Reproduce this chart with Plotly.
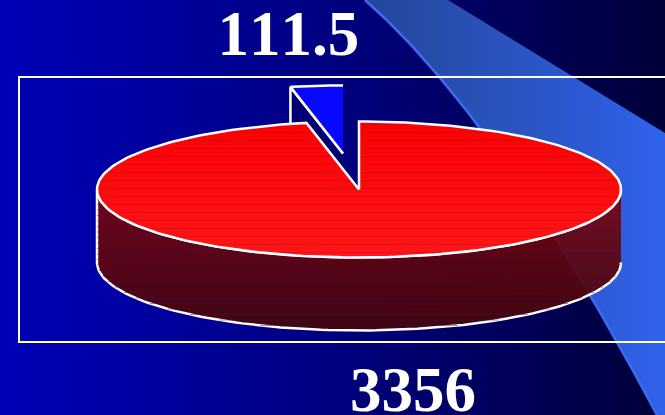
import numpy as np
import plotly.graph_objects as go

# pie values as labelled on the slide
slice_values = [3356, 111.5]
slice_labels = ["3356", "111.5"]

WIDTH, HEIGHT = 665, 415
CX, CY, RX, RY = 359, 189.5, 262, 68
DEPTH = 73
EXPLODE = (-16, -36)
WHITE = "#ffffff"


def arc(start_deg, stop_deg, cx=CX, cy=CY, n=120):
    """Points on the pie ellipse, angles clockwise from 12 o'clock."""
    t = np.radians(np.linspace(start_deg, stop_deg, n))
    return cx + RX * np.sin(t), cy - RY * np.cos(t)


def chord(y, cy):
    """Half width of the ellipse centred on cy at height y."""
    d = (y - cy) / RY
    return RX * np.sqrt(max(0.0, 1 - d * d))


def add_poly(fig, x, y, **kw):
    fig.add_trace(go.Scatter(x=list(x), y=list(y), mode="lines", fill="toself",
                             hoverinfo="skip", showlegend=False, **kw))


def add_stripes(fig, xs, ys, color):
    fig.add_trace(go.Scatter(x=xs, y=ys, mode="lines", hoverinfo="skip", showlegend=False,
                             line=dict(color=color, width=1)))


red_sweep = 360 * slice_values[0] / sum(slice_values)
no_line = dict(width=0, color="rgba(0,0,0,0)")

fig = go.Figure()

# slide background
add_poly(fig, [0, WIDTH, WIDTH, 0], [0, 0, HEIGHT, HEIGHT], line=no_line,
         fillgradient=dict(type="horizontal",
                           colorscale=[[0, "#0000b8"], [0.5, "#000080"], [1, "#000038"]]))

# swoosh across the right side
t = np.linspace(0, 1, 80)
edge_x = (1 - t) ** 2 * 365 + 2 * t * (1 - t) * 499 + t ** 2 * 657
edge_y = (1 - t) ** 2 * 0 + 2 * t * (1 - t) * 118 + t ** 2 * 415
add_poly(fig, list(edge_x) + [WIDTH, WIDTH, 448], list(edge_y) + [HEIGHT, 133, 0], line=no_line,
         fillgradient=dict(type="horizontal",
                           colorscale=[[0, "#24479a"], [0.55, "#2b55c4"], [1, "#3062ec"]]))
fig.add_trace(go.Scatter(x=edge_x, y=edge_y, mode="lines", hoverinfo="skip", showlegend=False,
                         line=dict(color="#3a6cf0", width=2.5)))

# exploded blue slice: cut face first, then its top
bx, by = CX + EXPLODE[0], CY + EXPLODE[1]
ax, ay = arc(red_sweep, 360, bx, by, 30)
add_poly(fig, [bx, ax[0], ax[0], bx], [by, ay[0], ay[0] + DEPTH, by + DEPTH],
         fillcolor="#000074", line=dict(color=WHITE, width=2.5))
add_poly(fig, [bx] + list(ax), [by] + list(ay),
         fillcolor="#0808ff", line=dict(color=WHITE, width=2.5))

# red slice wall
wx, wy = arc(90, 270)
add_poly(fig, list(wx) + list(wx[::-1]), list(wy + DEPTH) + list(wy[::-1]),
         line=dict(color=WHITE, width=2.5),
         fillgradient=dict(type="vertical",
                           colorscale=[[0, "rgba(66,6,6,0.95)"], [1, "rgba(130,4,4,0.9)"]]))
wall_x, wall_y = [], []
for y in np.arange(CY + 4, CY + RY + DEPTH - 2, 5.5):
    outer = chord(y, CY + DEPTH) if y > CY + DEPTH else RX
    inner = chord(y, CY) if y < CY + RY else None
    if inner is None:
        wall_x += [CX - outer, CX + outer, None]
        wall_y += [y, y, None]
    else:
        wall_x += [CX - outer, CX - inner, None, CX + inner, CX + outer, None]
        wall_y += [y, y, None, y, y, None]
add_stripes(fig, wall_x, wall_y, "rgba(50,10,130,0.45)")

# red slice top
rx, ry = arc(0, red_sweep, n=240)
add_poly(fig, [CX] + list(rx) + [CX], [CY] + list(ry) + [CY], line=no_line,
         fillgradient=dict(type="vertical", colorscale=[[0, "#ff1616"], [1, "#ff0000"]]))
top_x, top_y = [], []
notch_slope = (CX - rx[-1]) / (CY - ry[-1])
for y in np.arange(CY - RY + 3, CY + RY, 8):
    half = chord(y, CY)
    if y < CY:
        top_x += [CX - half, CX - (CY - y) * notch_slope, None, CX, CX + half, None]
        top_y += [y, y, None, y, y, None]
    else:
        top_x += [CX - half, CX + half, None]
        top_y += [y, y, None]
add_stripes(fig, top_x, top_y, "rgba(120,20,110,0.3)")
fig.add_trace(go.Scatter(x=[CX] + list(rx) + [CX], y=[CY] + list(ry) + [CY], mode="lines",
                         hoverinfo="skip", showlegend=False, line=dict(color=WHITE, width=2.5)))

# chart frame, runs off the right of the slide
fig.add_shape(type="rect", x0=19, x1=WIDTH + 20, y0=77, y1=342, xref="x", yref="y",
              line=dict(color=WHITE, width=2))

label_font = dict(family="Liberation Serif", size=63, color=WHITE)
fig.add_annotation(x=288, y=34, text=f"<b>{slice_labels[1]}</b>", showarrow=False, font=label_font)
fig.add_annotation(x=413, y=390, text=f"<b>{slice_labels[0]}</b>", showarrow=False, font=label_font)

fig.update_layout(
    width=WIDTH, height=HEIGHT,
    margin=dict(l=0, r=0, t=0, b=0),
    paper_bgcolor="#000080", plot_bgcolor="#000080",
    showlegend=False,
    xaxis=dict(visible=False, range=[0, WIDTH], fixedrange=True),
    yaxis=dict(visible=False, range=[HEIGHT, 0], fixedrange=True),
)

# page margin off, and no kerning so the 1s stand as wide as on the slide
page_css = (
    "document.body.style.margin='0';"
    "var s=document.createElement('style');"
    "s.textContent='text{font-kerning:none}';"
    "document.head.appendChild(s);"
)
fig.write_html("out.html", config=dict(displayModeBar=False), post_script=page_css)
